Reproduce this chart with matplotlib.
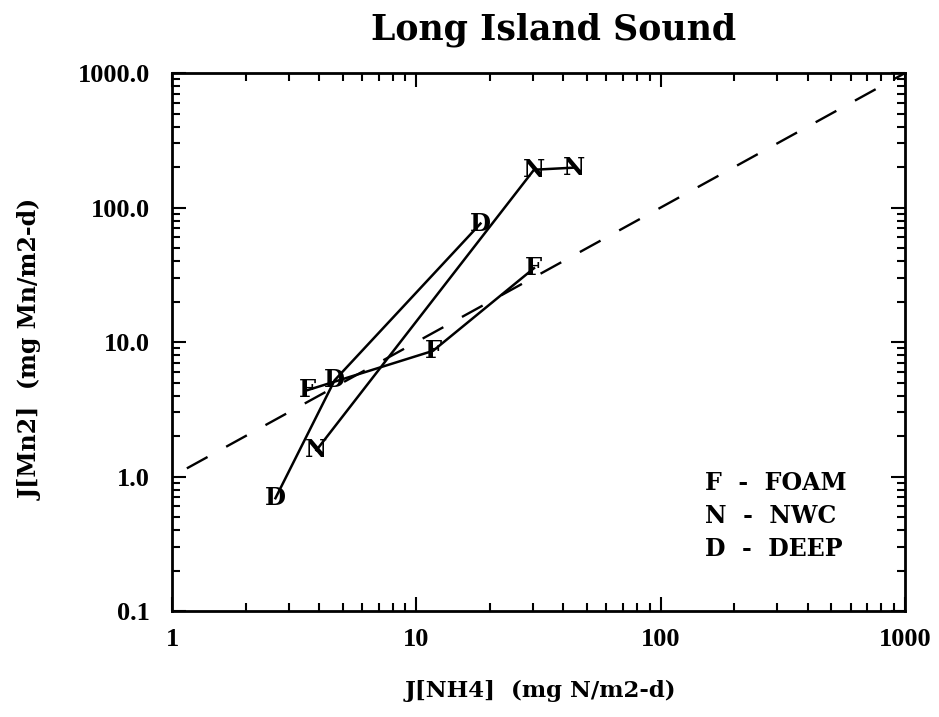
import matplotlib
matplotlib.use("Agg")
import matplotlib.pyplot as plt
from matplotlib.ticker import FixedLocator, FixedFormatter, LogLocator, NullFormatter

# nutrient flux vs manganese flux, three sampling groups
foam_nh4 = [3.6, 11.7, 30.3]
foam_mn = [4.4, 8.6, 35.4]
nwc_nh4 = [3.9, 30.3, 44.0]
nwc_mn = [1.57, 191.0, 198.0]
deep_nh4 = [2.65, 4.63, 18.3]
deep_mn = [0.69, 5.2, 76.0]

# 1:1 reference line
ref_x = [1.15, 1000.0]
ref_y = [1.15, 1000.0]

xticks = [1, 10, 100, 1000]
xtick_labels = ["1", "10", "100", "1000"]
yticks = [0.1, 1, 10, 100, 1000]
ytick_labels = ["0.1", "1.0", "10.0", "100.0", "1000.0"]

legend_lines = ["F  -  FOAM", "N  -  NWC", "D  -  DEEP"]

heavy = "DejaVu Serif"
digits = "Liberation Serif"

fig = plt.figure(figsize=(9.39, 7.17), dpi=100)
ax = fig.add_axes([0.1832, 0.1478, 0.7806, 0.7503])
ax.set_xscale("log")
ax.set_yscale("log")
ax.set_xlim(1, 1000)
ax.set_ylim(0.1, 1000)

ax.plot(ref_x, ref_y, color="black", lw=1.7, dashes=(10, 9))

for xs, ys, letter in [(foam_nh4, foam_mn, "F"), (nwc_nh4, nwc_mn, "N"), (deep_nh4, deep_mn, "D")]:
    ax.plot(xs, ys, color="black", lw=1.8)
    for x, y in zip(xs, ys):
        ax.text(x, y, letter, ha="center", va="center", fontsize=17.5,
                fontfamily=heavy, fontweight="bold")

for i, line in enumerate(legend_lines):
    ax.text(0.727, 0.238 - i * 0.0613, line, transform=ax.transAxes, ha="left", va="center",
            fontsize=17, fontfamily=heavy, fontweight="bold")

ax.xaxis.set_major_locator(FixedLocator(xticks))
ax.xaxis.set_major_formatter(FixedFormatter(xtick_labels))
ax.yaxis.set_major_locator(FixedLocator(yticks))
ax.yaxis.set_major_formatter(FixedFormatter(ytick_labels))
ax.xaxis.set_minor_locator(LogLocator(base=10, subs=range(2, 10)))
ax.yaxis.set_minor_locator(LogLocator(base=10, subs=range(2, 10)))
ax.xaxis.set_minor_formatter(NullFormatter())
ax.yaxis.set_minor_formatter(NullFormatter())

ax.tick_params(which="both", direction="in", top=True, right=True, width=1.5)
ax.tick_params(which="major", length=10)
ax.tick_params(which="minor", length=5.5)
ax.tick_params(axis="y", which="major", pad=16)
ax.tick_params(axis="x", which="major", pad=12)
for lab in ax.get_xticklabels() + ax.get_yticklabels():
    lab.set_fontfamily(digits)
    lab.set_fontweight("bold")
    lab.set_fontsize(19)
for sp in ax.spines.values():
    sp.set_linewidth(2)

fig.text(0.575, 1 - 691 / 717, "J[NH4]  (mg N/m2-d)", ha="center", va="center",
         fontsize=16.5, fontfamily=heavy, fontweight="bold")
fig.text(31 / 939, 1 - 349 / 717, "J[Mn2]  (mg Mn/m2-d)", ha="center", va="center",
         rotation=90, fontsize=17, fontfamily=heavy, fontweight="bold")
fig.text(554 / 939, 1 - 30 / 717, "Long Island Sound", ha="center", va="center",
         fontsize=25, fontfamily=heavy, fontweight="bold")

fig.savefig("out.png", dpi=100, facecolor="white")
